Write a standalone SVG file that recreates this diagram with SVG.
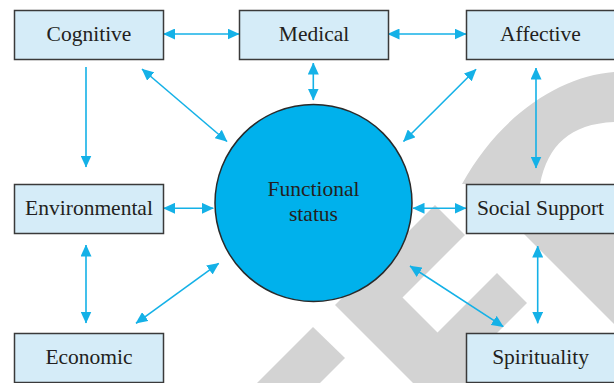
<svg xmlns="http://www.w3.org/2000/svg" width="614" height="383" viewBox="0 0 614 383">
<style>
.wm{fill:#d3d3d3;stroke:none}
.box{fill:#d5ecf8;stroke:#3a3a3a;stroke-width:1.5}
.lbl{font-family:"Liberation Serif","Times New Roman",serif;font-size:21.5px;fill:#231f20;text-anchor:middle}
.ar{stroke:#14b1e7;stroke-width:1.6;fill:none}
</style>
<defs>
<marker id="ah" viewBox="0 0 12 11" refX="11.5" refY="5.5" markerWidth="12" markerHeight="11" markerUnits="userSpaceOnUse" orient="auto-start-reverse">
<path d="M0,0 L12,5.5 L0,11 z" fill="#14b1e7"/>
</marker>
</defs>
<rect width="614" height="383" fill="#ffffff"/>
<g id="watermark">
<path class="wm" d="M435,205 L335,305 L413,383 L488,383 L467.5,362.5 L527,303 L497,273 L437.5,332.5 L402.5,297.5 L465,235 Z"/>
<path class="wm" d="M313,327 L345,358 L320,383 L257,383 Z"/>
<path class="wm" d="M474,184 L565,184 L614,233 L614,324 Z"/>
<path class="wm" d="M614,72 C560,76 500,115 462,184 L540,184 C548,145 570,124 614,122 Z"/>
</g>
<g id="connectors">
<line class="ar" x1="163.5" y1="34" x2="239" y2="34" marker-start="url(#ah)" marker-end="url(#ah)"/>
<line class="ar" x1="388" y1="34" x2="466" y2="34" marker-start="url(#ah)" marker-end="url(#ah)"/>
<line class="ar" x1="86" y1="67" x2="86" y2="167" marker-end="url(#ah)"/>
<line class="ar" x1="142" y1="69" x2="227" y2="141.5" marker-start="url(#ah)" marker-end="url(#ah)"/>
<line class="ar" x1="313.3" y1="63" x2="313.3" y2="100" marker-start="url(#ah)" marker-end="url(#ah)"/>
<line class="ar" x1="476" y1="69.3" x2="403.5" y2="141.5" marker-start="url(#ah)" marker-end="url(#ah)"/>
<line class="ar" x1="536" y1="68" x2="536" y2="168" marker-start="url(#ah)" marker-end="url(#ah)"/>
<line class="ar" x1="163.5" y1="208.3" x2="213.3" y2="208.3" marker-start="url(#ah)" marker-end="url(#ah)"/>
<line class="ar" x1="86" y1="245" x2="86" y2="323" marker-start="url(#ah)" marker-end="url(#ah)"/>
<line class="ar" x1="136" y1="323.3" x2="218.7" y2="263.3" marker-start="url(#ah)" marker-end="url(#ah)"/>
<line class="ar" x1="413" y1="208.3" x2="466" y2="208.3" marker-start="url(#ah)" marker-end="url(#ah)"/>
<line class="ar" x1="537.7" y1="246" x2="537.7" y2="323.3" marker-start="url(#ah)" marker-end="url(#ah)"/>
<line class="ar" x1="410" y1="266" x2="503.3" y2="326.7" marker-start="url(#ah)" marker-end="url(#ah)"/>
</g>
<g id="cognitive"><rect class="box" x="14.5" y="10.5" width="149" height="49"/><text class="lbl" x="89" y="41">Cognitive</text></g>
<g id="medical"><rect class="box" x="239.5" y="10.5" width="149" height="49"/><text class="lbl" x="314" y="41">Medical</text></g>
<g id="affective"><rect class="box" x="466.5" y="10.5" width="150" height="49"/><text class="lbl" x="540.5" y="41">Affective</text></g>
<g id="environmental"><rect class="box" x="14.5" y="184.5" width="149" height="49"/><text class="lbl" x="89" y="214.5">Environmental</text></g>
<g id="social-support"><rect class="box" x="466.5" y="184.5" width="150" height="49"/><text class="lbl" x="540.5" y="214.5">Social Support</text></g>
<g id="economic"><rect class="box" x="14.5" y="333.5" width="149" height="49"/><text class="lbl" x="89" y="364">Economic</text></g>
<g id="spirituality"><rect class="box" x="466.5" y="333.5" width="150" height="49"/><text class="lbl" x="540.5" y="364">Spirituality</text></g>
<g id="functional-status">
<circle cx="313.5" cy="203" r="98.5" fill="#00b1ec" stroke="#2a2a2a" stroke-width="1.5"/>
<text class="lbl" x="313.5" y="196">Functional</text>
<text class="lbl" x="313.5" y="221">status</text>
</g>
</svg>
